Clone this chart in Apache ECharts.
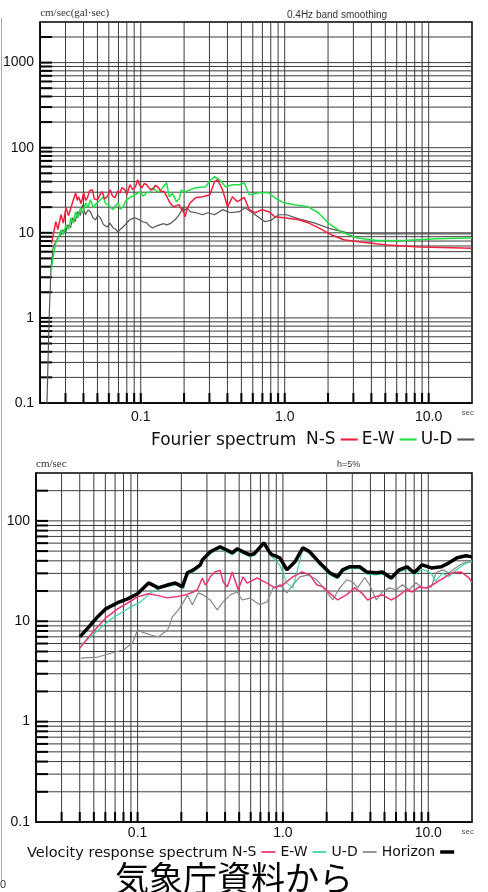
<!DOCTYPE html>
<html>
<head>
<meta charset="utf-8">
<script src="https://cdn.jsdelivr.net/npm/echarts@6/dist/echarts.min.js"></script>
<style>
html, body { margin: 0; padding: 0; background: #fff; }
#chart { width: 488px; height: 892px; }
</style>
</head>
<body>
<div id="chart"></div>
<script>
// axis ranges
var periodMin = 0.02, periodMax = 20;
var fourierMin = 0.1, fourierMax = 3000;
var velocityMin = 0.1, velocityMax = 300;

// labelled ticks
var periodTicks = [0.1, 1, 10];
var periodTickLabels = ['0.1', '1.0', '10.0'];
var fourierTicks = [0.1, 1, 10, 100, 1000];
var fourierTickLabels = ['0.1', '1', '10', '100', '1000'];
var velocityTicks = [0.1, 1, 10, 100];
var velocityTickLabels = ['0.1', '1', '10', '100'];

// log grid lines
var periodGrid = [0.03, 0.04, 0.05, 0.06, 0.07, 0.08, 0.09,
    0.1, 0.2, 0.3, 0.4, 0.5, 0.6, 0.7, 0.8, 0.9,
    1, 2, 3, 4, 5, 6, 7, 8, 9, 10];
var fourierGrid = [0.2, 0.3, 0.4, 0.5, 0.6, 0.7, 0.8, 0.9,
    1, 2, 3, 4, 5, 6, 7, 8, 9,
    10, 20, 30, 40, 50, 60, 70, 80, 90,
    100, 200, 300, 400, 500, 600, 700, 800, 900,
    1000, 2000];
var velocityGrid = [0.2, 0.3, 0.4, 0.5, 0.6, 0.7, 0.8, 0.9,
    1, 2, 3, 4, 5, 6, 7, 8, 9,
    10, 20, 30, 40, 50, 60, 70, 80, 90,
    100, 200];

// Fourier spectrum [period, value]
var fourierNS = [[0.0240, 7.5], [0.0257, 13.5], [0.0266, 11.0], [0.0279, 16.3], [0.0290, 13.0], [0.0302, 19.7], [0.0315, 16.0],
    [0.0337, 23.2], [0.0353, 29.5], [0.0362, 24.0], [0.0370, 26.5], [0.0385, 22.0], [0.0401, 29.5], [0.0415, 24.0],
    [0.0427, 26.0], [0.0440, 31.0], [0.0462, 32.0], [0.0475, 25.0], [0.0500, 24.4], [0.0520, 28.0], [0.0541, 30.3],
    [0.0560, 25.0], [0.0585, 26.5], [0.0614, 32.0], [0.0635, 27.0], [0.0664, 26.0], [0.0690, 31.0], [0.0718, 29.5],
    [0.0740, 34.0], [0.0777, 32.0], [0.0800, 28.0], [0.0841, 36.7], [0.0881, 32.0], [0.0920, 35.0], [0.0953, 42.0],
    [0.0985, 36.0], [0.1016, 33.8], [0.106, 38.0], [0.110, 36.7], [0.115, 33.0], [0.121, 32.0], [0.126, 36.0],
    [0.131, 34.8], [0.138, 31.0], [0.146, 30.3], [0.151, 27.0], [0.158, 23.2], [0.165, 21.0], [0.171, 20.2],
    [0.177, 21.0], [0.185, 21.3], [0.191, 19.0], [0.200, 17.2], [0.203, 15.4], [0.210, 19.0], [0.220, 22.5],
    [0.242, 26.0], [0.270, 26.5], [0.302, 28.0], [0.326, 40.0], [0.342, 42.0], [0.370, 32.0], [0.401, 20.2],
    [0.434, 26.5], [0.469, 23.2], [0.524, 26.0], [0.567, 18.7], [0.623, 17.2], [0.695, 18.7], [0.777, 17.7],
    [0.855, 15.4], [0.984, 15.0], [1.25, 14.2], [1.46, 13.1], [1.71, 11.5], [2.10, 9.5], [2.57, 8.3],
    [3.37, 7.8], [5.15, 7.2], [8.67, 6.8], [20, 6.6]];
var fourierEW = [[0.0238, 3.5], [0.0246, 5.1], [0.0257, 7.6], [0.0270, 9.0], [0.0279, 10.8], [0.0290, 9.5], [0.0302, 12.4],
    [0.0315, 11.0], [0.0327, 15.0], [0.0340, 13.0], [0.0353, 17.7], [0.0365, 15.0], [0.0382, 19.7], [0.0395, 17.0],
    [0.0413, 22.5], [0.0430, 20.0], [0.0447, 24.4], [0.0469, 19.7], [0.0490, 22.0], [0.0508, 23.2], [0.0549, 26.5],
    [0.0570, 22.0], [0.0594, 21.3], [0.0643, 18.7], [0.0670, 21.0], [0.0695, 22.5], [0.0720, 19.0], [0.0753, 20.2],
    [0.0790, 24.0], [0.0841, 26.0], [0.0910, 28.0], [0.0985, 30.3], [0.104, 27.0], [0.110, 29.5], [0.116, 30.0],
    [0.121, 33.8], [0.128, 31.0], [0.135, 30.3], [0.142, 34.0], [0.151, 38.7], [0.158, 26.5], [0.166, 29.0],
    [0.177, 23.2], [0.185, 25.0], [0.191, 32.0], [0.200, 30.0], [0.220, 32.0], [0.242, 33.8], [0.283, 34.8],
    [0.306, 42.0], [0.326, 45.7], [0.353, 42.0], [0.388, 34.8], [0.434, 36.7], [0.484, 36.7], [0.524, 38.7],
    [0.567, 28.0], [0.664, 29.5], [0.777, 29.5], [0.855, 25.8], [0.984, 22.5], [1.17, 21.3], [1.46, 20.2],
    [1.71, 17.2], [2.00, 13.1], [2.45, 10.3], [3.21, 8.7], [4.40, 8.1], [6.63, 8.1], [11.3, 8.5], [20, 8.7]];
var fourierUD = [[0.0223, 0.1], [0.0231, 1.0], [0.0238, 3.9], [0.0246, 6.8], [0.0257, 7.8], [0.0266, 8.8], [0.0279, 9.5],
    [0.0288, 10.8], [0.0300, 10.0], [0.0311, 12.4], [0.0325, 11.5], [0.0337, 15.0], [0.0350, 13.5], [0.0365, 17.7],
    [0.0380, 16.0], [0.0394, 21.3], [0.0413, 16.3], [0.0430, 18.5], [0.0447, 17.7], [0.0465, 15.0], [0.0484, 14.2],
    [0.0505, 16.0], [0.0524, 15.0], [0.0550, 12.5], [0.0585, 11.7], [0.0610, 13.0], [0.0643, 11.4], [0.0670, 11.0],
    [0.0695, 10.2], [0.0720, 11.0], [0.0753, 11.7], [0.0780, 12.5], [0.0814, 13.5], [0.0850, 14.5], [0.0910, 15.0],
    [0.0985, 14.2], [0.103, 13.5], [0.110, 13.1], [0.115, 12.0], [0.121, 11.4], [0.128, 12.0], [0.135, 12.4],
    [0.145, 12.8], [0.151, 12.4], [0.160, 12.8], [0.166, 13.4], [0.175, 14.5], [0.185, 16.3], [0.197, 19.7],
    [0.200, 18.0], [0.203, 17.7], [0.210, 19.7], [0.220, 17.7], [0.242, 17.2], [0.270, 16.3], [0.292, 17.2],
    [0.326, 16.3], [0.370, 18.7], [0.420, 17.2], [0.484, 17.7], [0.532, 19.7], [0.623, 16.3], [0.729, 13.5],
    [0.814, 14.2], [0.910, 16.3], [1.03, 16.3], [1.25, 14.6], [1.60, 13.1], [2.10, 11.1], [2.74, 10.0],
    [3.94, 9.7], [6.63, 9.7], [20, 9.7]];

// Velocity response spectrum h=5% [period, cm/sec]
var velocityNS = [[0.0401, 5.4], [0.0462, 7.0], [0.0532, 8.8], [0.0604, 10.8], [0.0729, 13.3], [0.0854, 15.2], [0.100, 17.5],
    [0.119, 18.8], [0.139, 18.0], [0.161, 17.1], [0.182, 17.5], [0.213, 18.3], [0.242, 19.6], [0.258, 20.6],
    [0.279, 27.0], [0.292, 23.0], [0.301, 24.2], [0.316, 27.7], [0.342, 31.2], [0.370, 32.0], [0.388, 24.7],
    [0.414, 22.0], [0.448, 31.0], [0.492, 20.6], [0.532, 27.7], [0.567, 24.0], [0.664, 27.0], [0.777, 24.0],
    [0.882, 21.5], [1.00, 23.1], [1.17, 27.7], [1.35, 31.0], [1.53, 29.0], [1.71, 23.1], [1.88, 22.0],
    [2.17, 18.3], [2.38, 16.3], [2.74, 18.3], [3.11, 21.5], [3.48, 19.2], [3.83, 16.3], [4.26, 17.5],
    [4.83, 18.3], [5.56, 16.3], [6.11, 17.5], [7.05, 20.6], [7.74, 19.6], [8.67, 22.0], [9.84, 21.5],
    [11.3, 24.2], [12.8, 27.1], [14.5, 30.4], [16.8, 31.0], [19.1, 27.0], [20, 24.2]];
var velocityEW = [[0.0407, 5.8], [0.0477, 7.0], [0.0558, 8.6], [0.0653, 10.4], [0.0765, 12.1], [0.0896, 13.9], [0.105, 15.6],
    [0.123, 19.2], [0.144, 21.5], [0.168, 22.5], [0.191, 23.1], [0.207, 21.0], [0.220, 29.0], [0.242, 31.2],
    [0.270, 35.0], [0.279, 39.0], [0.316, 47.0], [0.370, 53.0], [0.448, 46.0], [0.484, 50.5], [0.532, 47.0],
    [0.594, 44.0], [0.633, 45.0], [0.740, 58.0], [0.814, 46.0], [0.954, 36.0], [1.065, 24.0], [1.17, 21.5],
    [1.21, 26.0], [1.37, 52.0], [1.53, 47.0], [1.79, 36.5], [2.10, 29.0], [2.38, 26.5], [2.57, 31.0],
    [2.87, 33.5], [3.37, 33.5], [3.77, 29.5], [4.40, 29.0], [4.83, 29.5], [5.56, 26.0], [6.30, 31.0],
    [7.16, 33.0], [7.99, 29.0], [9.08, 33.0], [10.5, 30.0], [11.2, 25.0], [12.5, 30.0], [13.9, 28.0],
    [15.8, 33.0], [17.7, 37.0], [20, 40.0]];
var velocityUD = [[0.0407, 4.3], [0.0532, 4.4], [0.0653, 4.8], [0.0802, 5.2], [0.0924, 6.1], [0.100, 8.2], [0.108, 7.8],
    [0.123, 7.3], [0.139, 7.0], [0.161, 8.2], [0.174, 11.1], [0.191, 13.0], [0.207, 15.6], [0.220, 18.3],
    [0.238, 14.6], [0.262, 19.2], [0.283, 18.3], [0.316, 16.3], [0.353, 13.0], [0.388, 15.6], [0.434, 18.3],
    [0.484, 19.6], [0.524, 16.3], [0.594, 17.0], [0.695, 14.6], [0.777, 15.6], [0.855, 21.5], [0.954, 23.1],
    [1.065, 19.2], [1.17, 23.1], [1.31, 27.7], [1.49, 29.0], [1.71, 25.9], [1.88, 22.0], [2.20, 16.3],
    [2.46, 21.5], [2.74, 25.9], [3.02, 24.7], [3.26, 21.5], [3.65, 27.3], [3.94, 23.1], [4.40, 16.3],
    [4.83, 19.6], [5.39, 21.5], [6.01, 20.6], [6.63, 23.1], [7.39, 20.6], [8.24, 24.2], [9.08, 21.5],
    [10.5, 22.0], [11.3, 30.4], [12.5, 32.5], [13.9, 30.4], [15.8, 34.9], [17.7, 38.2], [20, 39.1]];
var velocityHorizon = [[0.0401, 7.0], [0.0462, 8.8], [0.0532, 11.1], [0.0604, 13.3], [0.0729, 15.3], [0.0854, 16.7],
    [0.100, 18.8], [0.119, 24.1], [0.139, 21.5], [0.163, 23.1], [0.182, 24.1], [0.203, 22.0], [0.220, 30.4],
    [0.242, 32.5], [0.270, 36.5], [0.279, 40.9], [0.316, 49.2], [0.370, 55.2], [0.448, 48.1], [0.484, 52.7],
    [0.532, 49.2], [0.594, 45.9], [0.633, 47.0], [0.740, 60.5], [0.814, 48.1], [0.841, 46.0], [0.954, 42.9],
    [1.065, 32.5], [1.21, 39.1], [1.37, 54.0], [1.53, 49.2], [1.79, 38.2], [2.10, 30.4], [2.38, 27.7],
    [2.57, 32.5], [2.87, 34.9], [3.37, 34.9], [3.77, 31.0], [4.40, 30.4], [4.83, 31.0], [5.56, 27.0],
    [6.30, 32.5], [7.16, 34.9], [7.99, 30.4], [9.08, 36.5], [10.5, 34.0], [12.3, 34.9], [13.9, 38.2],
    [15.8, 42.9], [18.2, 44.9], [20, 43.8]];

var sansFont = '"Liberation Sans", Arial, sans-serif';
var legendFont = '"DejaVu Sans", sans-serif';
var gridColor = '#3c3c3c';

function tickFormatter(ticks, labels) {
    return function (v) {
        for (var i = 0; i < ticks.length; i++) {
            if (Math.abs(Math.log10(v) - Math.log10(ticks[i])) < 1e-6) {
                return labels[i];
            }
        }
        return '';
    };
}

function periodAxis(idx, margin) {
    return {
        gridIndex: idx,
        type: 'log',
        logBase: 10,
        min: periodMin,
        max: periodMax,
        name: 'sec',
        nameLocation: 'end',
        nameGap: 2,
        nameTextStyle: { fontSize: 8, color: '#555', align: 'right', verticalAlign: 'top', padding: [6, 0, 0, 0] },
        axisLine: { show: true, lineStyle: { color: '#000', width: 1.5 } },
        axisTick: { show: false },
        splitLine: { show: false },
        axisLabel: {
            margin: margin,
            fontSize: 14,
            fontFamily: sansFont,
            color: '#111',
            formatter: tickFormatter(periodTicks, periodTickLabels)
        }
    };
}

function valueAxis(idx, min, max, ticks, labels, name) {
    return {
        gridIndex: idx,
        type: 'log',
        logBase: 10,
        min: min,
        max: max,
        name: name,
        nameLocation: 'end',
        nameGap: 3,
        nameTextStyle: { fontSize: 11, fontFamily: '"Liberation Serif", serif', color: '#333', align: 'left' },
        axisLine: { show: true, lineStyle: { color: '#000', width: 1.5 } },
        axisTick: { show: false },
        splitLine: { show: false },
        axisLabel: {
            margin: 6,
            fontSize: 14,
            fontFamily: sansFont,
            color: '#111',
            formatter: tickFormatter(ticks, labels)
        }
    };
}

// vertical grid lines + short ticks at the bottom, drawn through the axis scale
function periodGridSeries(idx) {
    return {
        type: 'custom',
        xAxisIndex: idx,
        yAxisIndex: idx,
        silent: true,
        z: 1,
        data: periodGrid.map(function (v) { return [v, 1]; }),
        renderItem: function (params, api) {
            var cs = params.coordSys;
            var x = api.coord([api.value(0), 1])[0];
            var yb = cs.y + cs.height;
            return {
                type: 'group',
                children: [
                    { type: 'line', shape: { x1: x, y1: cs.y, x2: x, y2: yb }, style: { stroke: gridColor, lineWidth: 1 } },
                    { type: 'line', shape: { x1: x, y1: yb, x2: x, y2: yb - 10 }, style: { stroke: '#000', lineWidth: 2 } }
                ]
            };
        }
    };
}

// horizontal grid lines + short ticks at the left
function valueGridSeries(idx, values) {
    return {
        type: 'custom',
        xAxisIndex: idx,
        yAxisIndex: idx,
        silent: true,
        z: 1,
        data: values.map(function (v) { return [1, v]; }),
        renderItem: function (params, api) {
            var cs = params.coordSys;
            var y = api.coord([1, api.value(1)])[1];
            return {
                type: 'group',
                children: [
                    { type: 'line', shape: { x1: cs.x, y1: y, x2: cs.x + cs.width, y2: y }, style: { stroke: gridColor, lineWidth: 1 } },
                    { type: 'line', shape: { x1: cs.x, y1: y, x2: cs.x + 12, y2: y }, style: { stroke: '#000', lineWidth: 2 } }
                ]
            };
        }
    };
}

function lineSeries(name, idx, data, color, width) {
    return {
        name: name,
        type: 'line',
        xAxisIndex: idx,
        yAxisIndex: idx,
        data: data,
        symbol: 'none',
        smooth: false,
        z: 3,
        itemStyle: { color: color },
        lineStyle: { color: color, width: width }
    };
}

var thinIcon = 'path://M0,0h8v1h-8z';
var thickIcon = 'path://M0,0h4v1h-4z';
var stripPrefix = function (name) { return name.replace(/^\S+ /, ''); };

var option = {
    animation: false,
    backgroundColor: '#fff',
    grid: [
        { left: 36, top: 22, width: 436, height: 381, show: true, borderColor: '#000', borderWidth: 1.5, backgroundColor: 'transparent' },
        { left: 36, top: 473, width: 436, height: 349, show: true, borderColor: '#000', borderWidth: 1.5, backgroundColor: 'transparent' }
    ],
    xAxis: [periodAxis(0, 7), periodAxis(1, 4)],
    yAxis: [
        valueAxis(0, fourierMin, fourierMax, fourierTicks, fourierTickLabels, 'cm/sec(gal\u00b7sec)'),
        valueAxis(1, velocityMin, velocityMax, velocityTicks, velocityTickLabels, 'cm/sec')
    ],
    legend: [
        {
            left: 306,
            top: 431,
            padding: 0,
            align: 'right',
            itemWidth: 17,
            itemHeight: 8,
            itemGap: 4,
            selectedMode: false,
            formatter: stripPrefix,
            textStyle: { fontSize: 17, fontFamily: legendFont, color: '#111' },
            data: [
                { name: 'Fourier N-S', icon: thinIcon },
                { name: 'Fourier E-W', icon: thinIcon },
                { name: 'Fourier U-D', icon: thinIcon }
            ]
        },
        {
            left: 232,
            top: 845,
            padding: 0,
            align: 'right',
            itemWidth: 14,
            itemHeight: 8,
            itemGap: 5,
            selectedMode: false,
            formatter: stripPrefix,
            textStyle: { fontSize: 14, fontFamily: legendFont, color: '#111' },
            data: [
                { name: 'Velocity N-S', icon: thinIcon },
                { name: 'Velocity E-W', icon: thinIcon },
                { name: 'Velocity U-D', icon: thinIcon },
                { name: 'Velocity Horizon', icon: thickIcon }
            ]
        }
    ],
    graphic: [
        { type: 'text', x: 287, y: 15, style: { text: '0.4Hz band smoothing', font: '10px "Liberation Sans", sans-serif', fill: '#333', verticalAlign: 'middle' } },
        { type: 'text', x: 337, y: 465, style: { text: 'h=5%', font: '9px "Liberation Sans", sans-serif', fill: '#333', verticalAlign: 'middle' } },
        { type: 'text', x: 151, y: 441, style: { text: 'Fourier spectrum', font: '17px "DejaVu Sans", sans-serif', fill: '#111', verticalAlign: 'middle' } },
        { type: 'text', x: 27, y: 853, style: { text: 'Velocity response spectrum', font: '14.5px "DejaVu Sans", sans-serif', fill: '#111', verticalAlign: 'middle' } },
        { type: 'text', x: 115, y: 878, style: { text: '気象庁資料から', font: '34px "Noto Sans CJK JP", sans-serif', fill: '#000', verticalAlign: 'middle' } },
        { type: 'line', shape: { x1: 1.5, y1: 18, x2: 1.5, y2: 880 }, style: { stroke: '#aaa', lineWidth: 1 } },
        { type: 'text', x: 0, y: 885, style: { text: '0', font: '11px "Liberation Sans", sans-serif', fill: '#333', verticalAlign: 'middle' } }
    ],
    series: [
        periodGridSeries(0),
        valueGridSeries(0, fourierGrid),
        periodGridSeries(1),
        valueGridSeries(1, velocityGrid),
        lineSeries('Fourier U-D', 0, fourierUD, '#555555', 1.2),
        lineSeries('Fourier E-W', 0, fourierEW, '#22e044', 1.5),
        lineSeries('Fourier N-S', 0, fourierNS, '#f2203c', 1.5),
        lineSeries('Velocity U-D', 1, velocityUD, '#888888', 1.2),
        lineSeries('Velocity E-W', 1, velocityEW, '#3cd6a0', 1.2),
        lineSeries('Velocity N-S', 1, velocityNS, '#ec3570', 1.5),
        lineSeries('Velocity Horizon', 1, velocityHorizon, '#000000', 3.5)
    ]
};

var chart = echarts.init(document.getElementById('chart'));
chart.setOption(option);
</script>
</body>
</html>
